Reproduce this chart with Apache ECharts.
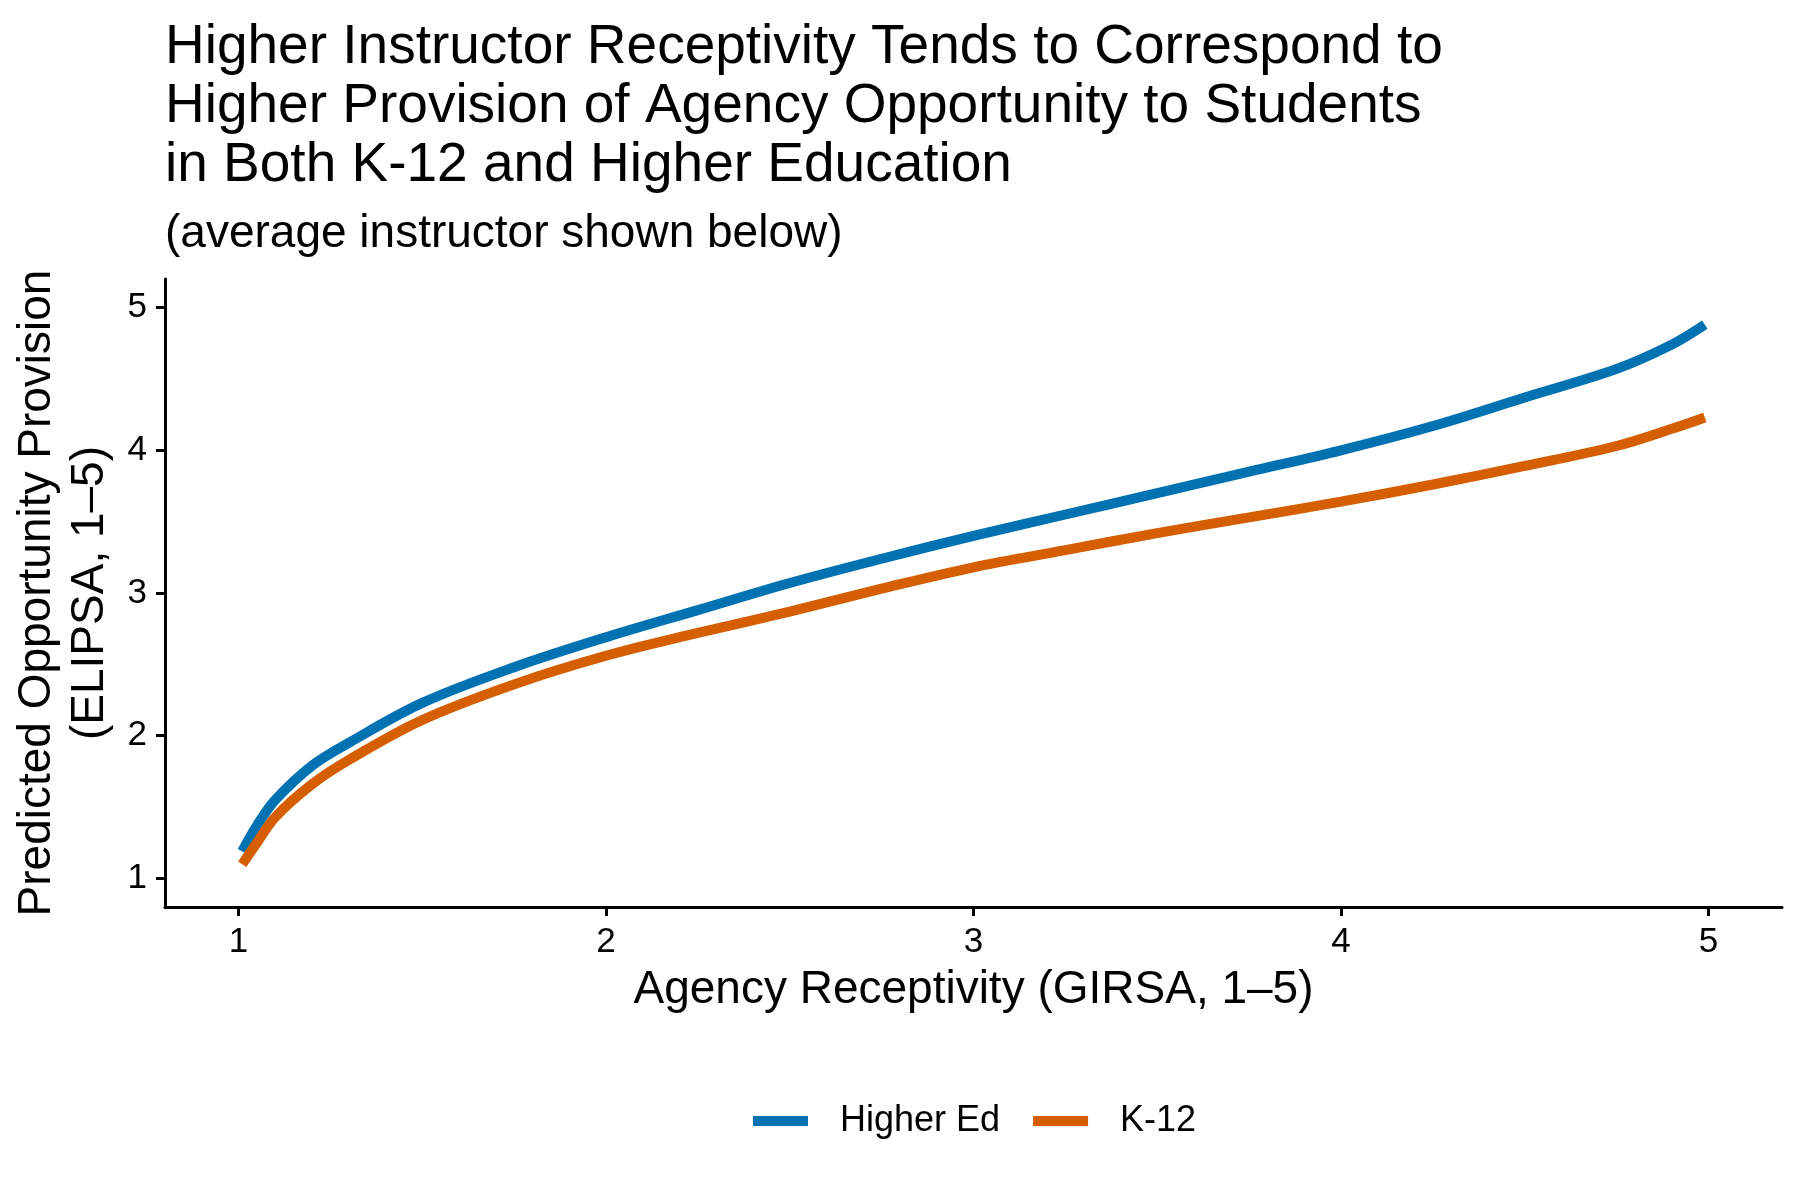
<!DOCTYPE html>
<html>
<head>
<meta charset="utf-8">
<title>Agency Receptivity vs Opportunity Provision</title>
<script src="https://cdn.jsdelivr.net/npm/echarts@6/dist/echarts.min.js"></script>
<style>
  html, body { margin: 0; padding: 0; background: #fff; }
  #chart { width: 1800px; height: 1200px; }
</style>
</head>
<body>
<div id="chart"></div>
<script>
// values
const receptivity = [1.01, 1.05, 1.1, 1.2, 1.3, 1.5, 1.75, 2, 2.25, 2.5, 2.75, 3, 3.25, 3.5, 3.75, 4, 4.25, 4.5, 4.75, 4.9, 4.99]
const higherEd = [1.19, 1.37, 1.55, 1.79, 1.95, 2.23, 2.48, 2.69, 2.88, 3.07, 3.24, 3.40, 3.55, 3.70, 3.85, 4.00, 4.17, 4.37, 4.57, 4.74, 4.88]
const k12 = [1.10, 1.25, 1.43, 1.66, 1.83, 2.11, 2.36, 2.56, 2.72, 2.87, 3.03, 3.18, 3.30, 3.42, 3.53, 3.64, 3.76, 3.89, 4.03, 4.15, 4.23]
const xTicks = [1, 2, 3, 4, 5]
const yTicks = [1, 2, 3, 4, 5]
const seriesNames = ['Higher Ed', 'K-12']
const colors = ['#0072B2', '#D55E00']

const font = 'Liberation Sans, Arial, Helvetica, sans-serif'
const pairs = (ys) => receptivity.map((x, i) => [x, ys[i]])

const chart = echarts.init(document.getElementById('chart'), null, { renderer: 'canvas' })

const axisCommon = {
  type: 'value',
  min: 0.8,
  max: 5.2,
  splitLine: { show: false },
  axisLine: { show: true, onZero: false, lineStyle: { color: '#000', width: 3 } },
  axisTick: { show: true, length: 9, lineStyle: { color: '#000', width: 3 } },
  nameTextStyle: { color: '#000', fontFamily: font, fontSize: 46 },
}

const lineSeries = (name, ys, color) => ({
  name,
  type: 'line',
  data: pairs(ys),
  smooth: 0.35,
  showSymbol: false,
  color,
  lineStyle: { width: 10, color, cap: 'butt' },
})

chart.setOption({
  backgroundColor: '#fff',
  animation: false,
  title: {
    text: 'Higher Instructor Receptivity Tends to Correspond to\nHigher Provision of Agency Opportunity to Students\nin Both K-12 and Higher Education',
    subtext: '(average instructor shown below)',
    left: 160,
    top: 13,
    itemGap: 14,
    textStyle: { color: '#000', fontFamily: font, fontSize: 55, fontWeight: 'normal', lineHeight: 59 },
    subtextStyle: { color: '#000', fontFamily: font, fontSize: 46, lineHeight: 50 },
  },
  legend: {
    data: seriesNames,
    left: 748,
    top: 1098,
    icon: 'rect',
    itemWidth: 55,
    itemHeight: 10,
    itemGap: 33,
    textStyle: { color: '#000', fontFamily: font, fontSize: 36, padding: [0, 0, 0, 27] },
  },
  grid: {
    left: 165,
    right: 18,
    top: 279,
    bottom: 293,
    outerBoundsMode: 'none',
    containLabel: false,
  },
  xAxis: {
    ...axisCommon,
    name: 'Agency Receptivity (GIRSA, 1–5)',
    nameLocation: 'middle',
    nameGap: 60,
    axisTick: { ...axisCommon.axisTick, customValues: xTicks },
    axisLabel: { customValues: xTicks, color: '#000', fontFamily: font, fontSize: 35, margin: 18 },
  },
  yAxis: {
    ...axisCommon,
    name: 'Predicted Opportunity Provision\n(ELIPSA, 1–5)',
    nameLocation: 'middle',
    nameRotate: 90,
    nameGap: 43,
    nameTextStyle: { ...axisCommon.nameTextStyle, lineHeight: 53 },
    axisTick: { ...axisCommon.axisTick, customValues: yTicks },
    axisLabel: { customValues: yTicks, color: '#000', fontFamily: font, fontSize: 35, margin: 18 },
  },
  series: [
    lineSeries(seriesNames[0], higherEd, colors[0]),
    lineSeries(seriesNames[1], k12, colors[1]),
  ],
})
</script>
</body>
</html>
